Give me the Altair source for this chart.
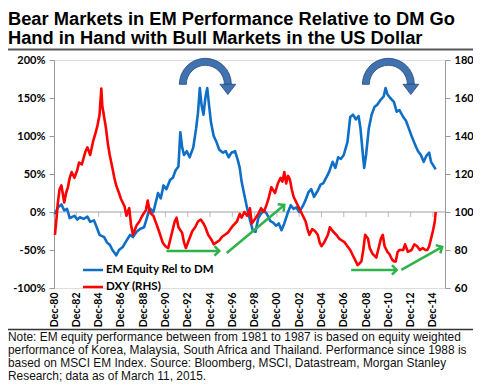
import altair as alt
import pandas as pd

# ---------------- data ----------------
blue_dates = ["1981-01","1981-04","1981-08","1981-11","1982-02","1982-05","1982-10","1983-01","1983-04","1983-08",
              "1983-12","1984-03","1984-07","1984-10","1985-01","1985-06","1985-09","1985-12","1986-03","1986-07",
              "1986-10","1987-02","1987-05","1987-10","1988-01","1988-05","1988-09","1989-01","1989-04","1989-07",
              "1989-11","1990-02","1990-04","1990-07","1990-10","1991-01","1991-05","1991-08","1991-11","1992-02",
              "1992-04","1992-06","1992-08","1992-11","1993-02","1993-06","1993-09","1993-11","1994-01","1994-03",
              "1994-05","1994-07","1994-09","1994-11","1995-01","1995-04","1995-07","1995-10","1996-02","1996-05",
              "1996-08","1996-11","1997-03","1997-06","1997-08","1997-10","1998-01","1998-04","1998-07","1998-10",
              "1999-01","1999-04","1999-07","1999-10","2000-01","2000-05","2000-08","2000-11","2001-02","2001-05",
              "2001-08","2001-12","2002-03","2002-06","2002-09","2002-12","2003-04","2003-07","2003-10","2004-01",
              "2004-04","2004-08","2004-11","2005-02","2005-05","2005-08","2005-12","2006-03","2006-06","2006-09",
              "2006-12","2007-04","2007-07","2007-10","2008-01","2008-04","2008-06","2008-09","2008-10","2008-12",
              "2009-03","2009-06","2009-09","2009-12","2010-04","2010-07","2010-09","2010-11","2011-02","2011-06",
              "2011-09","2011-12","2012-04","2012-07","2012-10","2013-01","2013-05","2013-08","2013-11","2014-02",
              "2014-05","2014-08","2014-10","2014-12","2015-03"]
blue_values = [-3, 6, 10, 2, 4, -8, -5, -10, -7, -9,
               -6, -13, -11, -20, -30, -33, -40, -43, -50, -57,
               -50, -46, -40, -30, -33, -26, -22, -20, -8, 5,
               0, 15, 25, 18, 35, 30, 42, 45, 55, 60,
               105, 85, 75, 80, 72, 85, 110, 130, 163, 140,
               128, 150, 163, 140, 118, 100, 92, 82, 78, 80,
               72, 78, 80, 68, 58, 40, 22, 5, -10, -24,
               -26, -8, -2, 2, -2, -12, -14, -18, -15, -24,
               -15, 0, 9, 4, 6, 0, 8, 16, 26, 30,
               20, 28, 36, 38, 45, 52, 66, 58, 72, 70,
               75, 92, 125, 128, 122, 126, 110, 70, 58, 75,
               110, 128, 138, 141, 148, 152, 163, 155, 150, 145,
               132, 134, 125, 120, 110, 100, 88, 80, 75, 66,
               74, 78, 66, 62, 56]

red_dates = ["1981-01","1981-03","1981-04","1981-06","1981-08","1981-11","1982-01","1982-03","1982-05","1982-07",
             "1982-10","1983-01","1983-03","1983-06","1983-10","1983-12","1984-03","1984-06","1984-09","1984-11",
             "1985-01","1985-03","1985-04","1985-06","1985-08","1985-10","1985-12","1986-03","1986-05","1986-07",
             "1986-10","1986-12","1987-04","1987-06","1987-09","1987-11","1988-01","1988-05","1988-08","1988-11",
             "1989-03","1989-05","1989-07","1989-11","1990-02","1990-05","1990-09","1990-12","1991-03","1991-07",
             "1991-10","1991-12","1992-02","1992-06","1992-08","1992-10","1993-01","1993-05","1993-08","1993-11",
             "1994-02","1994-05","1994-07","1994-10","1995-02","1995-04","1995-07","1995-10","1996-01","1996-04",
             "1996-07","1996-10","1997-01","1997-05","1997-08","1997-10","1998-01","1998-04","1998-07","1998-09",
             "1998-12","1999-04","1999-07","1999-10","2000-01","2000-03","2000-06","2000-10","2001-01","2001-04",
             "2001-06","2001-08","2001-10","2001-12","2002-02","2002-04","2002-06","2002-09","2002-12","2003-04",
             "2003-07","2003-09","2003-11","2004-02","2004-05","2004-08","2004-10","2004-12","2005-03","2005-07",
             "2005-09","2005-12","2006-04","2006-07","2006-10","2007-01","2007-04","2007-07","2007-10","2008-01",
             "2008-03","2008-05","2008-07","2008-09","2008-11","2009-02","2009-04","2009-07","2009-09","2009-11",
             "2010-01","2010-04","2010-06","2010-08","2010-11","2011-01","2011-04","2011-06","2011-08","2011-10",
             "2011-12","2012-04","2012-06","2012-09","2013-01","2013-04","2013-07","2013-10","2014-01","2014-04",
             "2014-06","2014-08","2014-10","2014-12","2015-02","2015-03"]
red_values = [88, 98, 104, 112, 114, 105, 110, 113, 118, 121,
              118, 122, 126, 125, 132, 134, 130, 137, 142, 146,
              151, 165, 156, 150, 144, 136, 130, 123, 118, 114,
              110, 107, 103, 98, 102, 93, 88, 93, 95, 98,
              101, 106, 100, 98, 94, 90, 84, 82, 81, 89,
              95, 97, 92, 89, 84, 81, 85, 90, 92, 95,
              96, 94, 92, 88, 85, 83, 84, 85, 87, 88,
              89, 91, 93, 95, 99, 97, 100, 98, 102, 94,
              96, 99, 102, 100, 104, 107, 113, 110, 115, 118,
              116, 121, 115, 119, 117, 112, 108, 105, 102, 98,
              95, 91, 88, 91, 90, 88, 84, 82, 84, 88,
              92, 90, 88, 86, 85, 84, 82, 80, 77, 74,
              72, 73, 74, 80, 88, 86, 81, 78, 77, 76,
              80, 86, 88, 82, 79, 78, 75, 74, 74, 79,
              80, 80, 83, 79, 80, 83, 82, 80, 81, 80,
              80, 82, 86, 90, 95, 100]

tick_years = list(range(1980, 2015, 2))          # Dec-80 ... Dec-14
left_ticks = [-100, -50, 0, 50, 100, 150, 200]
right_ticks = [60, 80, 100, 120, 140, 160, 180]
legend_labels = ["EM Equity Rel to DM", "DXY (RHS)"]

title_text = ("Bear Markets in EM Performance Relative to DM Go\n"
              "Hand in Hand with Bull Markets in the US Dollar")
note_text = ("Note: EM equity performance between from 1981 to 1987 is based on equity weighted\n"
             "performance of Korea, Malaysia, South Africa and Thailand. Performance since 1988 is\n"
             "based on MSCI EM Index. Source: Bloomberg, MSCI, Datastream, Morgan Stanley\n"
             "Research; data as of March 11, 2015.")

# annotation arrows (in data units)
green_start = ["1991-01", "1996-06", "2007-08", "2012-02"]
green_end = ["1995-10", "2001-08", "2011-09", "2015-10"]
green_y0 = [79.5, 78.4, 69.5, 69.5]
green_y1 = [79.5, 103.7, 69.5, 81.6]
green_angle = [0, 321, 0, 331]

curve_dates = ["1994-07", "2010-12"]
curve_y = [168, 168]

# ---------------- styling ----------------
BLUE = "#0f6fc6"
RED = "#ff0000"
GREEN = "#2db34a"
ARC = "#3f72ae"
ARC_EDGE = "#23497b"
AXF = "Lato"

x_scale = alt.Scale(type="utc", domain=[alt.DateTime(year=1980, month=12, date=1, utc=True),
                                        alt.DateTime(year=2016, month=1, date=1, utc=True)])
yl = alt.Scale(domain=[-100, 200], nice=False, zero=False)
yr = alt.Scale(domain=[60, 180], nice=False, zero=False)

x_axis = alt.Axis(values=[alt.DateTime(year=y, month=12, date=1, utc=True) for y in tick_years],
                  format="%b-%y", labelAngle=270, domain=False, ticks=False, grid=False,
                  labelFont=AXF, labelFontSize=10.5, labelFontWeight="bold", labelColor="#000",
                  labelPadding=4, labelOverlap=False, title=None)
left_axis = alt.Axis(values=left_ticks, labelExpr="datum.value + '%'", grid=False,
                     domainColor="#999", tickColor="#999", tickSize=5, labelPadding=4,
                     labelFont=AXF, labelFontSize=11, labelFontWeight="bold", labelColor="#000", title=None)
right_axis = alt.Axis(orient="right", values=right_ticks, grid=False,
                      domainColor="#999", tickColor="#999", tickSize=5, labelPadding=4,
                      labelFont=AXF, labelFontSize=11, labelFontWeight="bold", labelColor="#000", title=None)


def X(field):
    return alt.X(field, scale=x_scale, axis=x_axis)


def YL(field):
    return alt.Y(field, scale=yl, axis=left_axis)


def YR(field):
    return alt.Y(field, scale=yr, axis=right_axis)


one = pd.DataFrame({"a": [0]})

blue_df = pd.DataFrame({"date": blue_dates, "value": blue_values})
red_df = pd.DataFrame({"date": red_dates, "value": red_values})
tick_df = pd.DataFrame({"date": [f"{y}-12-01" for y in tick_years], "value": [0] * len(tick_years)})

zero_rule = alt.Chart(pd.DataFrame({"value": [0]})).mark_rule(color="#a0a0a0", strokeWidth=1).encode(
    y=YL("value:Q"))
zero_ticks = alt.Chart(tick_df).mark_tick(orient="vertical", size=5, thickness=1, color="#a0a0a0",
                                          yOffset=2.5).encode(x=X("date:T"), y=YL("value:Q"))
blue_line = alt.Chart(blue_df).mark_line(color=BLUE, strokeWidth=2.6, strokeJoin="round").encode(
    x=X("date:T"), y=YL("value:Q"))

curve_df = pd.DataFrame({"date": curve_dates, "value": curve_y})
arcs = alt.Chart(curve_df).mark_arc(radius=26, radius2=19, theta=4.712, theta2=7.854,
                                    fill=ARC, stroke=ARC_EDGE, strokeWidth=0.8).encode(
    x=X("date:T"), y=YL("value:Q"))
arc_heads = alt.Chart(curve_df).mark_point(shape="M-1,-0.6L1,-0.6L0,0.7Z", size=250, filled=True,
                                           fill=ARC, stroke=ARC_EDGE, strokeWidth=0.8, opacity=1,
                                           xOffset=22.5, yOffset=4.7).encode(
    x=X("date:T"), y=YL("value:Q"))


def txt(s, x, y, **kw):
    return alt.Chart(pd.DataFrame({"t": [s]})).mark_text(align="left", **kw).encode(
        text="t:N", x=alt.value(x), y=alt.value(y))


def hline(x1, x2, y, color, w):
    return alt.Chart(one).mark_rule(color=color, strokeWidth=w).encode(
        x=alt.value(x1), x2=alt.value(x2), y=alt.value(y))


legend = [
    hline(29, 49, 210, BLUE, 2.5),
    txt(legend_labels[0], 52, 210, baseline="middle", font=AXF, fontSize=11.5, fontWeight="bold", color="#000"),
    hline(29, 49, 227, RED, 2.5),
    txt(legend_labels[1], 52, 227, baseline="middle", font=AXF, fontSize=11.5, fontWeight="bold", color="#000"),
]

title = txt(title_text, -46, -35.5, baseline="alphabetic", lineBreak="\n", lineHeight=19.5,
            font="Liberation Sans", fontSize=18.3, fontWeight="bold", color="#000")
title_rule = hline(-46, 419, -10.5, "#595959", 2)
note = txt(note_text, -46, 281, baseline="alphabetic", lineBreak="\n", lineHeight=12.9,
           font="Liberation Sans", fontSize=11.9, color="#111")
note_rule = hline(-46, 419, 269.5, "#333", 1.5)

left_layer = alt.layer(zero_rule, zero_ticks, blue_line, arcs, arc_heads, *legend,
                       title, title_rule, note, note_rule)

red_line = alt.Chart(red_df).mark_line(color=RED, strokeWidth=2.6, strokeJoin="round").encode(
    x=X("date:T"), y=YR("value:Q"))

g_df = pd.DataFrame({"s": green_start, "e": green_end, "y0": green_y0, "y1": green_y1, "ang": green_angle})
g_rules = alt.Chart(g_df).mark_rule(color=GREEN, strokeWidth=2.5).encode(
    x=X("s:T"), x2="e:T", y=YR("y0:Q"), y2="y1:Q")
g_heads = alt.Chart(g_df).mark_point(shape="M-1,-1L0,0L-1,1", size=90, filled=False, color=GREEN,
                                     strokeWidth=2.5, opacity=1).encode(
    x=X("e:T"), y=YR("y1:Q"), angle=alt.Angle("ang:Q", scale=None))

right_layer = alt.layer(red_line, g_rules, g_heads)

chart = alt.layer(left_layer, right_layer).resolve_scale(y="independent").properties(
    width=391, height=228,
    autosize=alt.AutoSizeParams(type="none"),
    padding={"left": 46, "top": 52, "right": 28, "bottom": 94},
).configure_view(stroke=None).configure(background="white")

chart.save("out.html", embed_options={"renderer": "svg", "actions": False})
